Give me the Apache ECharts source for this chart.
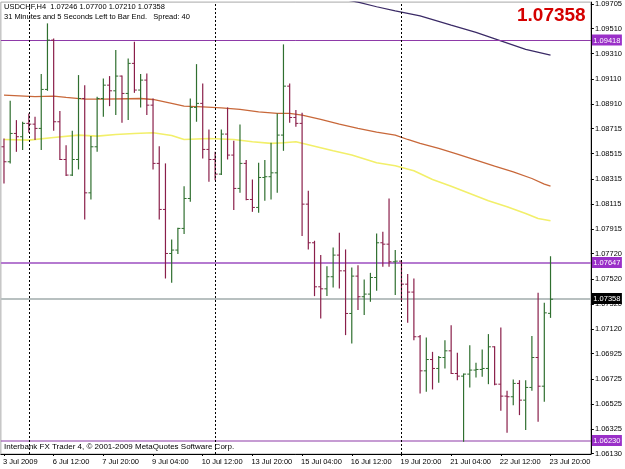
<!DOCTYPE html>
<html><head><meta charset="utf-8">
<script src="https://cdn.jsdelivr.net/npm/echarts@6/dist/echarts.min.js"></script>
<style>html,body{margin:0;padding:0;background:#fff}#c{width:625px;height:469px}</style>
</head><body><div id="c"></div>
<script>
// ---- OHLC bars (USDCHF H4) ----
const opens  = [1.08570,1.08451,1.08676,1.08650,1.08756,1.08750,1.08716,1.09026,1.09418,1.08769,
                1.08469,1.08345,1.08469,1.08954,1.08204,1.08570,1.08954,1.09060,1.09015,1.09132,
                1.08994,1.09233,1.09021,1.09100,1.08901,1.08438,1.08072,1.07722,1.07749,1.07921,
                1.08159,1.08883,1.08915,1.08549,1.08469,1.08353,1.08671,1.08504,1.08239,1.08438,
                1.08151,1.08088,1.08326,1.08332,1.08363,1.08663,1.09052,1.08803,1.08756,1.08114,
                1.07807,1.07457,1.07441,1.07537,1.07709,1.07584,1.07245,1.07542,1.07378,1.07399,
                1.07531,1.07807,1.07796,1.07656,1.07661,1.07478,1.07415,1.07060,1.06789,1.06879,
                1.06808,1.06895,1.06948,1.06768,1.06747,1.06763,1.06795,1.06800,1.06808,1.06980,
                1.06683,1.06588,1.06583,1.06689,1.06556,1.06657,1.06895,1.06667,1.07246];
const highs  = [1.08636,1.08936,1.08782,1.08769,1.08835,1.08809,1.09148,1.09551,1.09431,1.08854,
                1.08583,1.08697,1.09140,1.09060,1.08655,1.08968,1.09113,1.09132,1.09339,1.09137,
                1.09272,1.09405,1.09148,1.09153,1.08954,1.08575,1.08438,1.07833,1.07926,1.08257,
                1.08954,1.09227,1.09074,1.08708,1.08530,1.08708,1.08883,1.08618,1.08748,1.08464,
                1.08310,1.08443,1.08464,1.08602,1.08835,1.09384,1.09074,1.08862,1.08840,1.08220,
                1.07823,1.07709,1.07621,1.07770,1.07886,1.07754,1.07611,1.07629,1.07515,1.07568,
                1.07881,1.07894,1.08159,1.07749,1.07665,1.07558,1.07523,1.07073,1.07054,1.06940,
                1.06906,1.07033,1.07152,1.06932,1.06768,1.06993,1.06853,1.06959,1.07081,1.06985,
                1.07134,1.06630,1.06720,1.06715,1.06715,1.07065,1.07409,1.07330,1.07700];
const lows   = [1.08279,1.08438,1.08530,1.08544,1.08681,1.08623,1.08544,1.09015,1.08697,1.08464,
                1.08337,1.08337,1.08390,1.07992,1.08151,1.08530,1.08809,1.08893,1.08822,1.08761,
                1.08782,1.08999,1.08883,1.08822,1.08390,1.07992,1.07523,1.07489,1.07717,1.07876,
                1.08133,1.08769,1.08477,1.08292,1.08305,1.08345,1.08469,1.08067,1.08204,1.08146,
                1.08053,1.08045,1.08141,1.08151,1.08204,1.08538,1.08761,1.08729,1.07860,1.07754,
                1.07383,1.07205,1.07383,1.07452,1.07444,1.07073,1.07007,1.07272,1.07232,1.07338,
                1.07425,1.07616,1.07616,1.07391,1.07351,1.07171,1.07033,1.06609,1.06622,1.06641,
                1.06694,1.06808,1.06763,1.06715,1.06225,1.06657,1.06736,1.06742,1.06683,1.06675,
                1.06471,1.06296,1.06516,1.06437,1.06318,1.06630,1.06384,1.06543,1.07210];
const closes = [1.08451,1.08676,1.08650,1.08756,1.08750,1.08716,1.09026,1.09418,1.08769,1.08469,
                1.08345,1.08469,1.08954,1.08204,1.08570,1.08954,1.09060,1.09015,1.09132,1.08994,
                1.09233,1.09021,1.09100,1.08901,1.08438,1.08072,1.07722,1.07749,1.07921,1.08159,
                1.08883,1.08915,1.08549,1.08469,1.08353,1.08671,1.08504,1.08239,1.08438,1.08151,
                1.08088,1.08326,1.08332,1.08363,1.08663,1.09052,1.08803,1.08756,1.08114,1.07807,
                1.07457,1.07441,1.07537,1.07709,1.07584,1.07245,1.07542,1.07378,1.07399,1.07531,
                1.07807,1.07796,1.07656,1.07661,1.07478,1.07415,1.07060,1.06789,1.06879,1.06808,
                1.06895,1.06948,1.06768,1.06747,1.06763,1.06795,1.06800,1.06808,1.06980,1.06683,
                1.06588,1.06583,1.06689,1.06556,1.06657,1.06895,1.06667,1.07250,1.07358];

// ---- moving averages, [bar index, value] ----
const maOrange = [[0,1.08981],[5,1.08968],[8,1.08973],[10,1.08962],[13,1.08949],[16,1.08949],[20,1.08952],
  [22,1.08954],[24,1.08946],[27,1.08915],[29,1.08893],[32,1.08888],[35,1.08880],[38,1.08867],[41,1.08848],
  [44,1.08835],[46,1.08835],[48,1.08822],[51,1.08787],[54,1.08750],[57,1.08716],[60,1.08687],[63,1.08663],
  [65,1.08628],[67,1.08597],[70,1.08557],[73,1.08512],[76,1.08464],[79,1.08416],[82,1.08371],[85,1.08318],
  [87,1.08273],[88,1.08257]];
const maYellow = [[0,1.08628],[4,1.08623],[8,1.08644],[12,1.08663],[15,1.08655],[18,1.08668],[21,1.08676],
  [24,1.08681],[27,1.08660],[29,1.08628],[33,1.08636],[37,1.08628],[40,1.08610],[43,1.08597],[45,1.08602],
  [47,1.08610],[50,1.08575],[53,1.08538],[56,1.08504],[60,1.08443],[63,1.08419],[66,1.08379],[69,1.08310],
  [72,1.08257],[75,1.08199],[78,1.08141],[81,1.08093],[84,1.08040],[86,1.08000],[88,1.07982]];
const maNavy = [[54,1.09748],[57,1.09720],[60,1.09683],[63,1.09651],[67,1.09611],[72,1.09537],[76,1.09479],
  [80,1.09412],[84,1.09344],[88,1.09299]];

// ---- levels, separators, ticks ----
const levels = [1.09418, 1.07647, 1.06230];
const bidPrice = 1.07358;
const separators = ['4', '34', '64'];
const xTickLabels = ['3 Jul 2009','6 Jul 12:00','7 Jul 20:00','9 Jul 04:00','10 Jul 12:00','13 Jul 20:00',
  '15 Jul 04:00','16 Jul 12:00','19 Jul 20:00','21 Jul 04:00','22 Jul 12:00','23 Jul 20:00'];
const yTickLabels = [1.09705,1.09510,1.09310,1.09110,1.08910,1.08715,1.08515,1.08315,1.08115,1.07915,
  1.07720,1.07520,1.07320,1.07120,1.06925,1.06725,1.06525,1.06325,1.06130];
const slotCount = 95;

const FONT = '"Liberation Sans", Arial, sans-serif';
const upColor = '#2f6f2f', downColor = '#8a1f4a';
const tagColor = '#9a30c8';

const chart = echarts.init(document.getElementById('c'), null, {renderer: 'canvas'});
const cats = Array.from({length: slotCount}, (_, i) => String(i));
const ohlc = opens.map((o, i) => [i, o, highs[i], lows[i], closes[i]]);
// horizontal level lines: [value, lineColor, lineWidth, tagColor]
const levelRows = [
  [bidPrice, '#b8c0c0', 2, '#000000'],
  [levels[0], '#8e3aa8', 1, tagColor],
  [levels[1], '#b57ad0', 2, tagColor],
  [levels[2], '#8e3aa8', 1.2, tagColor]
];

chart.setOption({
  animation: false,
  backgroundColor: '#fff',
  grid: {left: 0, right: 31, top: 2, bottom: 15, show: true, borderColor: '#a8a8a8', borderWidth: 1},
  xAxis: {
    type: 'category', data: cats, boundaryGap: true,
    axisLine: {show: true, lineStyle: {color: '#000', width: 1}},
    axisTick: {show: true, interval: 7, alignWithLabel: true, length: 2, lineStyle: {color: '#000'}},
    axisLabel: {interval: 7, align: 'left', margin: 4, fontSize: 7.5, fontFamily: FONT, color: '#000',
      padding: [0, 0, 0, -1], formatter: (v, i) => xTickLabels[i / 8] || ''},
    splitLine: {show: false}
  },
  yAxis: {
    type: 'value', position: 'right', min: 1.06128, max: 1.09720, scale: true,
    axisLine: {show: true, lineStyle: {color: '#000', width: 1}},
    axisTick: {show: true, length: 3, customValues: yTickLabels, lineStyle: {color: '#000'}},
    axisLabel: {customValues: yTickLabels, margin: 4, fontSize: 7.5, fontFamily: FONT, color: '#000',
      formatter: v => v.toFixed(5)},
    splitLine: {show: false}
  },
  series: [
    {
      type: 'line', data: maYellow, showSymbol: false, silent: true, z: 2,
      lineStyle: {color: '#f2ef6a', width: 1.6}
    },
    {
      type: 'line', data: maOrange, showSymbol: false, silent: true, z: 2,
      lineStyle: {color: '#c8683a', width: 1.3}
    },
    {
      type: 'line', data: maNavy, showSymbol: false, silent: true, z: 2,
      lineStyle: {color: '#3a2a66', width: 1.2}
    },
    {
      type: 'custom', data: ohlc, encode: {x: 0, y: [1, 2, 3, 4]}, z: 4, clip: true,
      renderItem: function (params, api) {
        const i = api.value(0);
        const o = api.coord([i, api.value(1)]);
        const h = api.coord([i, api.value(2)]);
        const l = api.coord([i, api.value(3)]);
        const c = api.coord([i, api.value(4)]);
        const col = api.value(4) >= api.value(1) ? upColor : downColor;
        const x = o[0];
        return {type: 'group', children: [
          {type: 'line', shape: {x1: x, y1: h[1], x2: x, y2: l[1]}, style: {stroke: col, lineWidth: 1.2}},
          {type: 'line', shape: {x1: x - 2.5, y1: o[1], x2: x, y2: o[1]}, style: {stroke: col, lineWidth: 1}},
          {type: 'line', shape: {x1: x, y1: c[1], x2: x + 2.5, y2: c[1]}, style: {stroke: col, lineWidth: 1}}
        ]};
      }
    },
    {
      type: 'custom', data: levelRows.map(r => [0, r[0]]), encode: {x: 0, y: 1}, z: 3, clip: false, silent: true,
      renderItem: function (params, api) {
        const row = levelRows[params.dataIndex];
        const cs = params.coordSys;
        const y = Math.round(api.coord([0, api.value(1)])[1]) + (row[2] === 1 ? 0.5 : 0);
        const xr = cs.x + cs.width;
        return {type: 'group', children: [
          {type: 'line', shape: {x1: cs.x, y1: y, x2: xr, y2: y}, style: {stroke: row[1], lineWidth: row[2]}},
          {type: 'rect', shape: {x: xr + 1, y: y - 6, width: 30, height: 11}, style: {fill: row[3]}, z2: 5},
          {type: 'text', x: xr + 16, y: y, z2: 6, style: {text: row[0].toFixed(5), fill: '#fff',
            font: '7.5px ' + FONT, align: 'center', verticalAlign: 'middle'}}
        ]};
      }
    },
    {
      type: 'line', data: [], silent: true, z: 1,
      markLine: {
        symbol: 'none', silent: true, animation: false, label: {show: false},
        lineStyle: {color: '#000', width: 1, type: [2, 2]},
        data: separators.map(s => ({xAxis: s}))
      }
    }
  ],
  graphic: [
    {type: 'text', left: 4, top: 3, z: 10, style: {text: 'USDCHF,H4  1.07246 1.07700 1.07210 1.07358',
      font: '7.5px ' + FONT, fill: '#000'}},
    {type: 'text', left: 4, top: 13, z: 10, style: {text: '31 Minutes and 5 Seconds Left to Bar End.   Spread: 40',
      font: '7.5px ' + FONT, fill: '#000'}},
    {type: 'text', left: 517, top: 6, z: 10, style: {text: '1.07358',
      font: 'bold 19px ' + FONT, fill: '#d40000'}},
    {type: 'text', left: 4, top: 443, z: 10, style: {text: 'Interbank FX Trader 4, \u00a9 2001-2009 MetaQuotes Software Corp.',
      font: '8px ' + FONT, fill: '#000'}}
  ]
});
</script>
</body></html>
